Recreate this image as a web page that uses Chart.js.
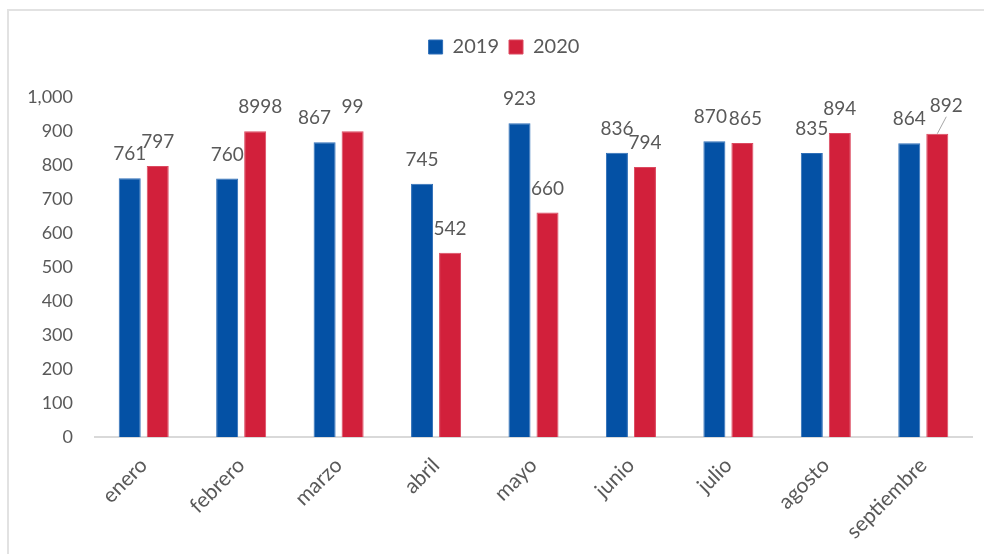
<!DOCTYPE html>
<html>
<head>
<meta charset="utf-8">
<script src="https://cdn.jsdelivr.net/npm/chart.js@4/dist/chart.umd.min.js"></script>
<style>
  body { margin: 0; background: #fff; overflow: hidden; }
  #frame { position: absolute; left: 7px; top: 9px; width: 1000px; height: 600px; border-top: 2px solid #e2e2e2; border-left: 2px solid #e2e2e2; }
  #wrap { position: absolute; left: 0; top: 0; width: 984px; height: 554px; }
</style>
</head>
<body>
<div id="frame"></div>
<div id="wrap"><canvas id="ventasChart" width="984" height="554"></canvas></div>
<script>
var meses = ['enero', 'febrero', 'marzo', 'abril', 'mayo', 'junio', 'julio', 'agosto', 'septiembre'];
var valores2019 = [761, 760, 867, 745, 923, 836, 870, 835, 864];
var valores2020 = [797, 899, 899, 542, 660, 794, 865, 894, 892];
// the labels as printed on the original (two of them differ from the bar values)
var etiquetas2019 = ['761', '760', '867', '745', '923', '836', '870', '835', '864'];
var etiquetas2020 = ['797', '8998', '99', '542', '660', '794', '865', '894', '892'];
var yTicks = [0, 100, 200, 300, 400, 500, 600, 700, 800, 900, 1000];

var gris = '#595959';
var fuente = 'Lato, "Open Sans", sans-serif';

// small nudges for a few labels, [dataset]-[index] -> [dx, dy]
var ajustes = { '0-2': [-10, 0], '1-1': [5, 0], '0-6': [-4, 0], '1-6': [3, 0], '1-8': [9, -4] };

var etiquetasPlugin = {
    id: 'etiquetas',
    afterDatasetsDraw: function(chart) {
        var ctx = chart.ctx;
        var textos = [etiquetas2019, etiquetas2020];
        ctx.save();
        ctx.font = '19px ' + fuente;
        ctx.fillStyle = gris;
        ctx.textAlign = 'center';
        ctx.textBaseline = 'middle';
        chart.data.datasets.forEach(function(ds, i) {
            chart.getDatasetMeta(i).data.forEach(function(bar, j) {
                var a = ajustes[i + '-' + j] || [0, 0];
                var x = bar.x + a[0];
                var y = bar.y - 24 + a[1];
                ctx.fillText(textos[i][j], x, y);
                if (a[1] !== 0) { // leader line back to the bar
                    ctx.strokeStyle = '#a6a6a6';
                    ctx.lineWidth = 1;
                    ctx.beginPath();
                    ctx.moveTo(x, y + 11);
                    ctx.lineTo(bar.x, bar.y);
                    ctx.stroke();
                }
            });
        });
        ctx.restore();
    }
};

// extra room under the legend, and the legend sits a bit right of centre
var legendaMargen = {
    id: 'legendaMargen',
    beforeInit: function(chart) {
        var fit = chart.legend.fit;
        chart.legend.fit = function() {
            fit.bind(chart.legend)();
            this.height += 30;
        };
    },
    afterLayout: function(chart) {
        chart.legend.left += 18;
        chart.legend.right += 18;
    }
};

var ctx = document.getElementById('ventasChart').getContext('2d');
var ventasChart = new Chart(ctx, {
    type: 'bar',
    data: {
        labels: meses,
        datasets: [{
            label: '2019',
            data: valores2019,
            backgroundColor: '#0451a5',
            borderColor: '#2f6fb8',
            borderWidth: 1,
            categoryPercentage: 0.575,
            barPercentage: 0.786
        }, {
            label: '2020',
            data: valores2020,
            backgroundColor: '#d2203b',
            borderColor: '#dc4a60',
            borderWidth: 1,
            categoryPercentage: 0.575,
            barPercentage: 0.786
        }]
    },
    options: {
        responsive: false,
        animation: false,
        locale: 'en-US',
        layout: { padding: { top: 27, right: 12, left: 0, bottom: 0 } },
        plugins: {
            legend: {
                position: 'top',
                labels: {
                    boxWidth: 14,
                    boxHeight: 14,
                    padding: 10,
                    color: gris,
                    font: { family: fuente, size: 20 }
                }
            },
            tooltip: { enabled: false }
        },
        scales: {
            x: {
                grid: { display: false, drawTicks: false },
                border: { display: true, color: '#d9d9d9', width: 2 },
                ticks: {
                    color: gris,
                    font: { family: fuente, size: 21 },
                    minRotation: 45,
                    maxRotation: 45,
                    autoSkip: false,
                    padding: 16
                },
                afterFit: function(scale) { scale.height = 117; }
            },
            y: {
                min: 0,
                max: 1000,
                grid: { display: false, drawTicks: false },
                border: { display: false },
                afterBuildTicks: function(scale) {
                    scale.ticks = yTicks.map(function(v) { return { value: v }; });
                },
                ticks: {
                    color: gris,
                    font: { family: fuente, size: 18 },
                    padding: 22
                },
                afterFit: function(scale) { scale.width = 95; }
            }
        }
    },
    plugins: [legendaMargen, etiquetasPlugin]
});
</script>
</body>
</html>
